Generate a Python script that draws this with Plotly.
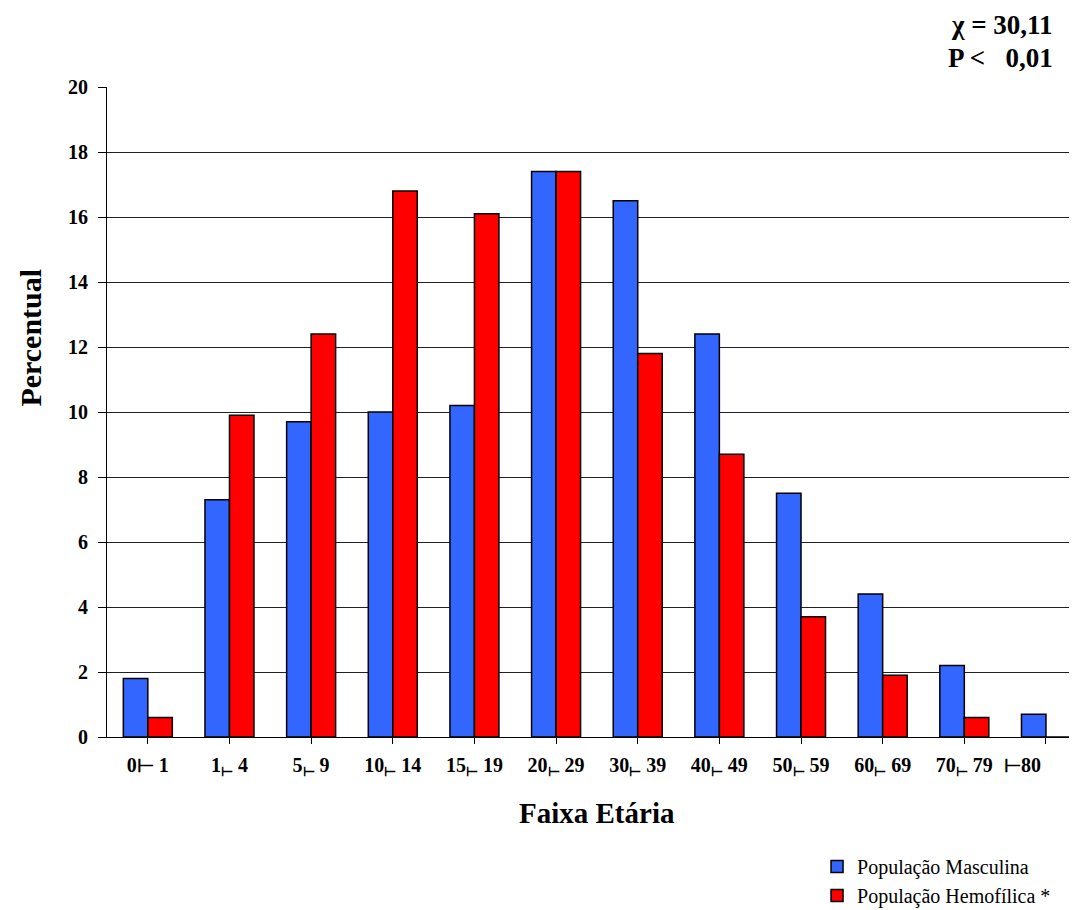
import plotly.graph_objects as go

categories = ["0⊢ 1", "1<sub>⊢</sub> 4", "5<sub>⊢</sub> 9", "10<sub>⊢</sub> 14", "15<sub>⊢</sub> 19",
              "20<sub>⊢</sub> 29", "30<sub>⊢</sub> 39", "40<sub>⊢</sub> 49", "50<sub>⊢</sub> 59",
              "60<sub>⊢</sub> 69", "70<sub>⊢</sub> 79", "⊢80"]
masculina = [1.8, 7.3, 9.7, 10.0, 10.2, 17.4, 16.5, 12.4, 7.5, 4.4, 2.2, 0.7]
hemofilica = [0.6, 9.9, 12.4, 16.8, 16.1, 17.4, 11.8, 8.7, 3.7, 1.9, 0.6, 0.0]
y_ticks = [0, 2, 4, 6, 8, 10, 12, 14, 16, 18, 20]

serif = "Liberation Serif"
xs = list(range(len(categories)))

fig = go.Figure()
fig.add_trace(go.Bar(x=xs, y=masculina, name="População Masculina",
                     marker=dict(color="#3366FF", line=dict(color="black", width=1.5))))
fig.add_trace(go.Bar(x=xs, y=hemofilica, name="População Hemofílica *",
                     marker=dict(color="#FF0000", line=dict(color="black", width=1.5))))

ticktext = ["<b>" + c + "</b>" for c in categories[:-1]] + [""]
ytext = ["<b>%d</b>" % v for v in y_ticks]

fig.update_layout(
    width=1069, height=902,
    margin=dict(l=99, r=0, t=79, b=173, autoexpand=False),
    paper_bgcolor="white", plot_bgcolor="white",
    barmode="group", bargap=0.4, bargroupgap=0,
    font_family=serif, font_color="black", font_size=20,
    showlegend=True,
    legend_x=0.732, legend_y=-0.274, legend_xanchor="left", legend_yanchor="bottom",
    legend_font_family=serif, legend_font_size=20, legend_font_color="black",
    legend_bgcolor="rgba(0,0,0,0)", legend_tracegroupgap=0,
)
fig.update_xaxes(range=[-0.5, 11.38], tickmode="array", tickvals=xs, ticktext=ticktext,
                 tickson="boundaries", ticks="outside", ticklen=6, tickcolor="black",
                 ticklabelstandoff=4,
                 showline=True, linecolor="black", linewidth=1, showgrid=False,
                 tickfont_family=serif, tickfont_size=20, tickfont_color="black")
fig.update_yaxes(range=[0, 20], tickmode="array", tickvals=y_ticks, ticktext=ytext,
                 ticks="outside", ticklen=8, tickcolor="black",
                 ticklabelstandoff=6,
                 showline=True, linecolor="black", linewidth=1,
                 showgrid=True, gridcolor="#222222", gridwidth=1, zeroline=False,
                 tickfont_family=serif, tickfont_size=20, tickfont_color="black")

annots = [
    dict(text="<b>Percentual</b>", xref="paper", yref="paper", x=-0.079, y=0.615,
         xanchor="center", yanchor="middle",
         textangle=-90, showarrow=False, font=dict(family=serif, size=30, color="black")),
    dict(text="<b>Faixa Etária</b>", xref="paper", yref="paper", x=0.505, y=-0.117,
         xanchor="center", yanchor="middle",
         showarrow=False, font=dict(family=serif, size=29, color="black")),
    dict(text="<b>" + categories[-1] + "</b>", xref="x", yref="paper", x=10.71, y=-0.043,
         xanchor="center", yanchor="middle", showarrow=False,
         font=dict(family=serif, size=20, color="black")),
    dict(text="<b>χ = 30,11</b>", xref="paper", yref="paper", x=0.977, y=1.095,
         xanchor="right", yanchor="middle", showarrow=False,
         font=dict(family=serif, size=27, color="black")),
    dict(text="<b>P &lt;   0,01</b>", xref="paper", yref="paper", x=0.977, y=1.045,
         xanchor="right", yanchor="middle", showarrow=False,
         font=dict(family=serif, size=27, color="black")),
]
for a in annots:
    fig.add_annotation(**a)

fig.write_html("out.html")
